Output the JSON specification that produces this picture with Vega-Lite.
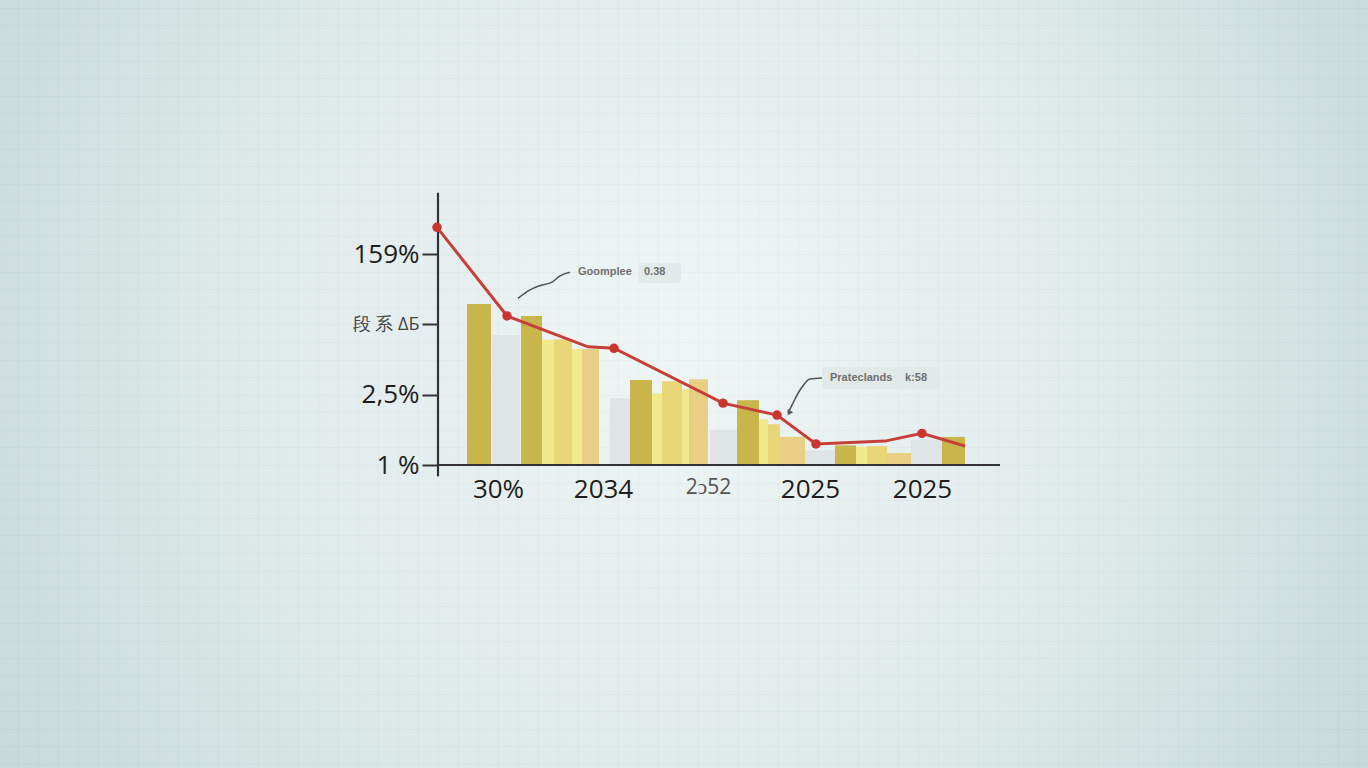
{
  "$schema": "https://vega.github.io/schema/vega-lite/v6.json",
  "width": 1368,
  "height": 768,
  "autosize": {"type": "none"},
  "padding": 0,
  "background": "#cddede",
  "config": {"view": {"stroke": null}, "font": "Open Sans"},
  "datasets": {
    "frame": [{"k": 1}],
    "bars": [
      {"x0": 54, "x1": 82, "v": 1.85, "kind": "gray"},
      {"x0": 29, "x1": 53, "v": 2.29, "kind": "olive"},
      {"x0": 83, "x1": 104, "v": 2.12, "kind": "olive"},
      {"x0": 104, "x1": 116, "v": 1.78, "kind": "pale"},
      {"x0": 116, "x1": 134, "v": 1.79, "kind": "gold"},
      {"x0": 134, "x1": 144, "v": 1.65, "kind": "pale"},
      {"x0": 144, "x1": 161, "v": 1.65, "kind": "tan"},
      {"x0": 172, "x1": 192, "v": 0.95, "kind": "gray"},
      {"x0": 192, "x1": 214, "v": 1.21, "kind": "olive"},
      {"x0": 214, "x1": 224, "v": 1.02, "kind": "pale"},
      {"x0": 224, "x1": 244, "v": 1.19, "kind": "gold"},
      {"x0": 244, "x1": 251, "v": 1.08, "kind": "pale"},
      {"x0": 251, "x1": 270, "v": 1.22, "kind": "tan"},
      {"x0": 272, "x1": 299, "v": 0.50, "kind": "gray"},
      {"x0": 299, "x1": 321, "v": 0.92, "kind": "olive"},
      {"x0": 321, "x1": 330, "v": 0.65, "kind": "pale"},
      {"x0": 330, "x1": 342, "v": 0.58, "kind": "gold"},
      {"x0": 342, "x1": 367, "v": 0.40, "kind": "tan"},
      {"x0": 367, "x1": 397, "v": 0.21, "kind": "gray"},
      {"x0": 397, "x1": 418, "v": 0.28, "kind": "olive"},
      {"x0": 418, "x1": 429, "v": 0.26, "kind": "pale"},
      {"x0": 429, "x1": 449, "v": 0.27, "kind": "gold"},
      {"x0": 449, "x1": 473, "v": 0.17, "kind": "tan"},
      {"x0": 473, "x1": 504, "v": 0.36, "kind": "gray"},
      {"x0": 504, "x1": 527, "v": 0.40, "kind": "olive"}
    ],
    "trend": [
      {"x": -1, "v": 3.38, "dot": true},
      {"x": 69, "v": 2.12, "dot": true},
      {"x": 150, "v": 1.68, "dot": false},
      {"x": 176, "v": 1.66, "dot": true},
      {"x": 285, "v": 0.88, "dot": true},
      {"x": 339, "v": 0.71, "dot": true},
      {"x": 378, "v": 0.30, "dot": true},
      {"x": 447, "v": 0.34, "dot": false},
      {"x": 484, "v": 0.45, "dot": true},
      {"x": 527, "v": 0.27, "dot": false}
    ],
    "boxes": [
      {"x0": 200, "x1": 243, "y0": 2.588, "y1": 2.872},
      {"x0": 384, "x1": 502, "y0": 1.081, "y1": 1.393}
    ],
    "notes": [
      {"x": 140, "v": 2.74, "t": "Goomplee"},
      {"x": 206, "v": 2.74, "t": "0.38"},
      {"x": 392, "v": 1.237, "t": "Prateclands"},
      {"x": 467, "v": 1.237, "t": "k:58"}
    ],
    "connectors": [
      {"g": "a", "x": 80, "v": 2.37},
      {"g": "a", "x": 92, "v": 2.49},
      {"g": "a", "x": 102, "v": 2.55},
      {"g": "a", "x": 114, "v": 2.60},
      {"g": "a", "x": 122, "v": 2.69},
      {"g": "a", "x": 132, "v": 2.74},
      {"g": "b", "x": 384, "v": 1.237},
      {"g": "b", "x": 372, "v": 1.223},
      {"g": "b", "x": 362, "v": 1.066},
      {"g": "b", "x": 354, "v": 0.853},
      {"g": "b", "x": 351, "v": 0.77}
    ],
    "arrowhead": [{"x": 351, "v": 0.74}],
    "axislines": [
      {"x": 0, "x2": 0, "y": -0.16, "y2": 3.87},
      {"x": 0, "x2": 562, "y": 0, "y2": 0}
    ]
  },
  "resolve": {"axis": {"x": "independent", "y": "independent"}},
  "layer": [
    {
      "data": {"name": "frame"},
      "mark": {
        "type": "rect",
        "opacity": 0.87,
        "fill": {
          "gradient": "radial",
          "x1": 0.5, "y1": 0.47, "r1": 0,
          "x2": 0.5, "y2": 0.47, "r2": 0.72,
          "stops": [
            {"offset": 0, "color": "#f5f9f9"},
            {"offset": 0.45, "color": "#e2ecec"},
            {"offset": 1, "color": "#b7cfcf"}
          ]
        }
      },
      "encoding": {
        "x": {"datum": -438, "type": "quantitative", "scale": {"domain": [-438, 930], "nice": false, "zero": false},
          "axis": {"orient": "top", "grid": true, "labels": false, "ticks": false, "domain": false, "tickCount": 70, "gridColor": "#9bb7b7", "gridWidth": 1, "title": null}},
        "x2": {"datum": 930},
        "y": {"datum": -4.308, "type": "quantitative", "scale": {"domain": [-4.308, 6.612], "nice": false, "zero": false},
          "axis": {"orient": "right", "grid": true, "labels": false, "ticks": false, "domain": false,
            "values": [-4.25, -4, -3.75, -3.5, -3.25, -3, -2.75, -2.5, -2.25, -2, -1.75, -1.5, -1.25, -1, -0.75, -0.5, -0.25, 0, 0.25, 0.5, 0.75, 1, 1.25, 1.5, 1.75, 2, 2.25, 2.5, 2.75, 3, 3.25, 3.5, 3.75, 4, 4.25, 4.5, 4.75, 5, 5.25, 5.5, 5.75, 6, 6.25, 6.5],
            "gridColor": "#9bb7b7", "gridWidth": 1, "title": null}},
        "y2": {"datum": 6.612}
      }
    },
    {
      "data": {"name": "bars"},
      "mark": {"type": "rect"},
      "encoding": {
        "x": {"field": "x0", "type": "quantitative", "scale": {"domain": [-438, 930], "nice": false, "zero": false},
          "axis": {"orient": "bottom", "offset": -303, "zindex": 2, "values": [60, 165, 270, 372, 484],
            "labelExpr": "datum.value == 60 ? '30%' : datum.value == 165 ? '2034' : datum.value == 270 ? '2ↄ52' : '2025'",
            "domain": false, "ticks": false, "grid": false, "labelFontSize": {"condition": {"test": "datum.value == 270", "value": 21}, "value": 26},
            "labelColor": {"condition": {"test": "datum.value == 270", "value": "#555555"}, "value": "#1e1e1e"},
            "labelFont": "Open Sans", "labelPadding": 11, "labelOverlap": false, "labelFlush": false, "title": null}},
        "x2": {"field": "x1"},
        "y": {"field": "v", "type": "quantitative", "scale": {"domain": [-4.308, 6.612], "nice": false, "zero": false},
          "axis": {"orient": "left", "offset": -438, "zindex": 2, "values": [0, 1, 2, 3],
            "labelExpr": "datum.value == 0 ? '1 %' : datum.value == 1 ? '2,5%' : datum.value == 2 ? '段 系 ΔБ' : '159%'",
            "domain": false, "ticks": true, "tickSize": 16, "tickWidth": 2, "tickColor": "#333333", "grid": false,
            "labelFontSize": {"condition": {"test": "datum.value == 2", "value": 18}, "value": 26},
            "labelColor": {"condition": {"test": "datum.value == 2", "value": "#444444"}, "value": "#1e1e1e"},
            "labelFont": "Open Sans", "labelPadding": 3, "labelOverlap": false, "labelFlush": false, "title": null}},
        "y2": {"datum": 0},
        "color": {"field": "kind", "type": "nominal", "legend": null,
          "scale": {"domain": ["olive", "gray", "pale", "gold", "tan"], "range": ["#c9b64b", "#dfe5e7", "#f1e98b", "#e8d679", "#e8cf84"]}}
      }
    },
    {
      "data": {"name": "boxes"},
      "mark": {"type": "rect", "fill": "#e1e7e8", "opacity": 0.85, "cornerRadius": 3},
      "encoding": {
        "x": {"field": "x0", "type": "quantitative", "axis": null, "scale": {"domain": [-438, 930], "nice": false, "zero": false}},
        "x2": {"field": "x1"},
        "y": {"field": "y0", "type": "quantitative", "axis": null, "scale": {"domain": [-4.308, 6.612], "nice": false, "zero": false}},
        "y2": {"field": "y1"}
      }
    },
    {
      "data": {"name": "notes"},
      "mark": {"type": "text", "align": "left", "baseline": "middle", "font": "Liberation Sans", "fontWeight": "bold", "fontSize": 11, "color": "#707070"},
      "encoding": {
        "x": {"field": "x", "type": "quantitative", "axis": null, "scale": {"domain": [-438, 930], "nice": false, "zero": false}},
        "y": {"field": "v", "type": "quantitative", "axis": null, "scale": {"domain": [-4.308, 6.612], "nice": false, "zero": false}},
        "text": {"field": "t"}
      }
    },
    {
      "data": {"name": "connectors"},
      "mark": {"type": "line", "interpolate": "monotone", "color": "#555", "strokeWidth": 1.6},
      "encoding": {
        "x": {"field": "x", "type": "quantitative", "axis": null, "scale": {"domain": [-438, 930], "nice": false, "zero": false}},
        "y": {"field": "v", "type": "quantitative", "axis": null, "scale": {"domain": [-4.308, 6.612], "nice": false, "zero": false}},
        "detail": {"field": "g"}
      }
    },
    {
      "data": {"name": "arrowhead"},
      "mark": {"type": "point", "shape": "triangle-down", "filled": true, "color": "#555", "size": 40, "angle": 30, "opacity": 1},
      "encoding": {
        "x": {"field": "x", "type": "quantitative", "axis": null, "scale": {"domain": [-438, 930], "nice": false, "zero": false}},
        "y": {"field": "v", "type": "quantitative", "axis": null, "scale": {"domain": [-4.308, 6.612], "nice": false, "zero": false}}
      }
    },
    {
      "data": {"name": "axislines"},
      "mark": {"type": "rule", "color": "#333", "strokeWidth": 2.2},
      "encoding": {
        "x": {"field": "x", "type": "quantitative", "axis": null, "scale": {"domain": [-438, 930], "nice": false, "zero": false}},
        "x2": {"field": "x2"},
        "y": {"field": "y", "type": "quantitative", "axis": null, "scale": {"domain": [-4.308, 6.612], "nice": false, "zero": false}},
        "y2": {"field": "y2"}
      }
    },
    {
      "data": {"name": "trend"},
      "mark": {"type": "line", "color": "#c6403a", "strokeWidth": 3},
      "encoding": {
        "x": {"field": "x", "type": "quantitative", "axis": null, "scale": {"domain": [-438, 930], "nice": false, "zero": false}},
        "y": {"field": "v", "type": "quantitative", "axis": null, "scale": {"domain": [-4.308, 6.612], "nice": false, "zero": false}}
      }
    },
    {
      "data": {"name": "trend"},
      "transform": [{"filter": "datum.dot"}],
      "mark": {"type": "circle", "color": "#c8362f", "size": 90, "opacity": 1},
      "encoding": {
        "x": {"field": "x", "type": "quantitative", "axis": null, "scale": {"domain": [-438, 930], "nice": false, "zero": false}},
        "y": {"field": "v", "type": "quantitative", "axis": null, "scale": {"domain": [-4.308, 6.612], "nice": false, "zero": false}}
      }
    }
  ]
}
